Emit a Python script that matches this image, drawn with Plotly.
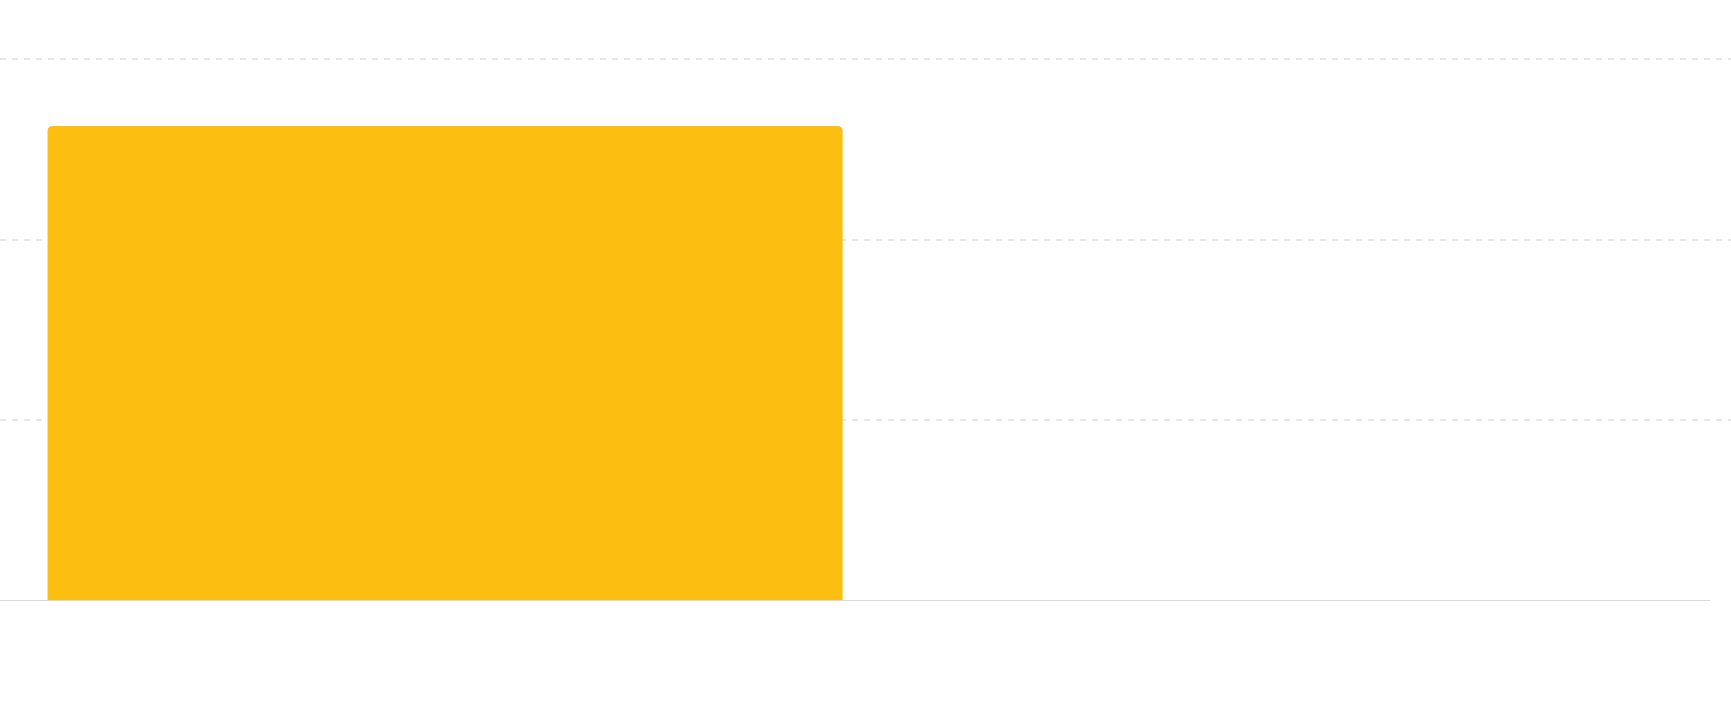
import plotly.graph_objects as go

# Data
categories = ["A", "B"]
values = [26.3, None]

bar_color = "#FCBE10"
grid_color = "#E6E6E6"
base_color = "#D9D9D9"

fig = go.Figure(go.Bar(
    x=categories, y=values,
    marker=dict(color=bar_color, cornerradius=5, line_width=0),
    width=0.92,
    hoverinfo="skip",
))

fig.update_layout(
    width=1731, height=705,
    margin=dict(l=0, r=0, t=41, b=104),
    paper_bgcolor="white", plot_bgcolor="white",
    showlegend=False,
    xaxis=dict(range=[-0.515, 1.488], showticklabels=False, showgrid=False,
               zeroline=False, showline=False, ticks=""),
    yaxis=dict(range=[0, 31], dtick=10, showticklabels=False, showgrid=True,
               gridcolor=grid_color, gridwidth=2, griddash="6px,6px",
               zeroline=False, showline=False, ticks=""),
    # baseline, nudged half a pixel down so the 3px line lands on whole pixels
    shapes=[dict(type="line", xref="paper", yref="y", x0=0, x1=1710 / 1731,
                 y0=-0.028, y1=-0.028, line=dict(color=base_color, width=3),
                 layer="above")],
)

# drop the browser's default page margin so the chart sits at (0, 0)
fig.write_html("out.html", config={"displayModeBar": False},
               post_script="document.body.style.margin='0';")
